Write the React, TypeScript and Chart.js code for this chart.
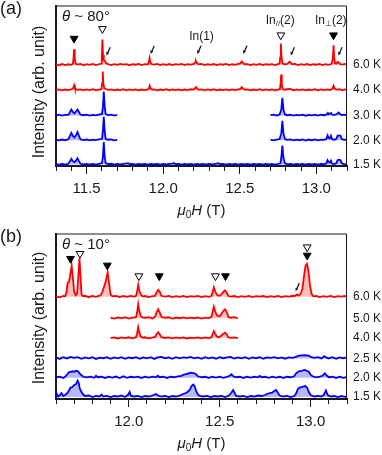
import React, { useEffect, useRef } from 'react';
import { Chart, registerables } from 'chart.js';

Chart.register(...registerables);

const FONT = "'Liberation Sans', Arial, sans-serif";
const RED = 'rgb(255,0,0)';
const BLUE = 'rgb(0,0,255)';
const RED_FILL = 'rgba(255,0,0,0.25)';
const BLUE_FILL = 'rgba(0,0,255,0.28)';
const INK = '#1a1a1a';

type Pt = [number, number | null];

// ---------- Panel (a): theta ~ 80 deg ----------
const a60: Pt[] = [[11.30,0.05],[11.32,-0.05],[11.34,0.08],[11.36,-0.02],[11.38,0.06],[11.40,0.0],[11.41,0.1],[11.414,0.6],[11.418,1.6],[11.422,0.7],[11.428,0.12],[11.44,0.03],[11.46,0.1],[11.48,-0.04],[11.50,0.07],[11.52,0.0],[11.54,0.09],[11.56,-0.03],[11.58,0.06],[11.594,0.12],[11.599,0.8],[11.603,2.6],[11.607,1.0],[11.612,0.45],[11.62,0.4],[11.628,0.15],[11.64,0.08],[11.66,-0.02],[11.68,0.07],[11.70,0.0],[11.72,0.1],[11.74,0.02],[11.76,0.08],[11.78,-0.04],[11.80,0.06],[11.82,0.01],[11.84,0.09],[11.86,-0.02],[11.88,0.07],[11.90,0.05],[11.906,0.3],[11.911,0.7],[11.916,0.3],[11.922,0.08],[11.94,0.02],[11.96,0.1],[11.98,-0.03],[12.00,0.06],[12.02,0.0],[12.04,0.08],[12.06,-0.02],[12.08,0.07],[12.10,0.02],[12.12,0.1],[12.14,-0.03],[12.16,0.06],[12.18,0.02],[12.20,0.1],[12.208,0.25],[12.214,0.4],[12.22,0.2],[12.23,0.05],[12.25,0.09],[12.27,-0.03],[12.29,0.06],[12.31,0.0],[12.33,0.08],[12.35,-0.02],[12.37,0.07],[12.39,0.01],[12.41,0.1],[12.43,-0.03],[12.45,0.06],[12.47,0.0],[12.49,0.1],[12.505,0.15],[12.512,0.35],[12.52,0.25],[12.53,0.06],[12.55,0.08],[12.57,-0.02],[12.59,0.07],[12.61,0.0],[12.63,0.09],[12.65,-0.03],[12.67,0.06],[12.69,0.01],[12.71,0.08],[12.73,-0.02],[12.75,0.07],[12.76,0.15],[12.764,0.8],[12.768,2.2],[12.772,0.9],[12.778,0.15],[12.79,0.05],[12.81,0.1],[12.824,0.3],[12.832,0.25],[12.84,0.06],[12.86,0.09],[12.88,-0.02],[12.90,0.07],[12.92,0.0],[12.94,0.08],[12.96,-0.03],[12.98,0.06],[13.00,0.01],[13.02,0.09],[13.04,-0.02],[13.06,0.07],[13.08,0.0],[13.10,0.1],[13.108,0.7],[13.112,2.0],[13.116,0.8],[13.122,0.15],[13.13,0.12],[13.138,0.3],[13.146,0.25],[13.155,0.07],[13.17,0.02],[13.185,0.09],[13.20,0.03]];

const a40: Pt[] = [[11.30,0.03],[11.32,0.08],[11.34,-0.03],[11.36,0.06],[11.38,0.0],[11.40,0.09],[11.412,0.2],[11.418,0.5],[11.424,0.15],[11.44,0.02],[11.46,0.08],[11.48,-0.03],[11.50,0.07],[11.52,0.01],[11.54,0.09],[11.56,-0.02],[11.58,0.06],[11.596,0.1],[11.601,0.7],[11.605,1.9],[11.609,0.7],[11.615,0.2],[11.625,0.12],[11.64,0.02],[11.66,0.08],[11.68,-0.03],[11.70,0.06],[11.72,0.0],[11.74,0.09],[11.76,-0.02],[11.78,0.07],[11.80,0.01],[11.82,0.08],[11.84,-0.03],[11.86,0.06],[11.88,0.0],[11.90,0.08],[11.907,0.2],[11.912,0.45],[11.917,0.2],[11.925,0.05],[11.94,0.07],[11.96,-0.02],[11.98,0.06],[12.00,0.0],[12.02,0.09],[12.04,-0.03],[12.06,0.07],[12.08,0.01],[12.10,0.08],[12.12,-0.02],[12.14,0.06],[12.16,0.0],[12.18,0.09],[12.20,0.05],[12.208,0.2],[12.215,0.3],[12.222,0.15],[12.23,0.05],[12.25,0.08],[12.27,-0.02],[12.29,0.07],[12.31,0.0],[12.33,0.09],[12.35,-0.03],[12.37,0.06],[12.39,0.01],[12.41,0.08],[12.43,-0.02],[12.45,0.07],[12.47,0.0],[12.49,0.08],[12.505,0.12],[12.512,0.3],[12.52,0.2],[12.53,0.05],[12.55,0.08],[12.57,-0.03],[12.59,0.06],[12.61,0.0],[12.63,0.09],[12.65,-0.02],[12.67,0.07],[12.69,0.01],[12.71,0.08],[12.73,-0.03],[12.75,0.06],[12.762,0.12],[12.766,0.6],[12.77,1.6],[12.774,0.6],[12.78,0.12],[12.79,0.04],[12.81,0.09],[12.83,0.12],[12.85,-0.02],[12.87,0.07],[12.89,0.0],[12.91,0.08],[12.93,-0.03],[12.95,0.06],[12.97,0.01],[12.99,0.09],[13.01,-0.02],[13.03,0.07],[13.05,0.0],[13.07,0.08],[13.09,0.02],[13.105,0.15],[13.112,0.45],[13.118,0.15],[13.13,0.05],[13.15,0.09],[13.17,-0.02],[13.185,0.07],[13.20,0.02]];

const a30: Pt[] = [[11.30,0.03],[11.32,0.07],[11.34,-0.02],[11.36,0.06],[11.38,0.05],[11.39,0.3],[11.40,0.6],[11.41,0.35],[11.42,0.2],[11.43,0.4],[11.44,0.6],[11.45,0.35],[11.46,0.08],[11.48,0.02],[11.50,0.07],[11.52,-0.02],[11.54,0.06],[11.56,0.0],[11.58,0.08],[11.60,0.15],[11.606,0.8],[11.612,2.45],[11.618,0.9],[11.624,0.15],[11.64,0.04],[11.66,0.08],[11.68,-0.02],[11.70,0.05],[12.2,null],[12.70,0.04],[12.72,0.08],[12.74,-0.02],[12.76,0.1],[12.771,0.6],[12.778,1.8],[12.785,0.6],[12.795,0.1],[12.81,0.02],[12.83,0.07],[12.85,-0.02],[12.87,0.06],[12.89,0.0],[12.91,0.08],[12.93,-0.03],[12.95,0.06],[12.97,0.01],[12.99,0.08],[13.01,-0.02],[13.03,0.07],[13.05,0.02],[13.068,0.1],[13.075,0.25],[13.082,0.12],[13.09,0.22],[13.096,0.25],[13.103,0.08],[13.12,0.05],[13.135,0.15],[13.145,0.3],[13.155,0.15],[13.165,0.03],[13.18,0.07],[13.20,0.02]];

const a20: Pt[] = [[11.30,0.05],[11.32,-0.02],[11.34,0.07],[11.36,0.0],[11.38,0.1],[11.39,0.4],[11.40,0.75],[11.41,0.45],[11.42,0.3],[11.43,0.5],[11.44,0.85],[11.45,0.45],[11.46,0.1],[11.48,0.02],[11.50,0.07],[11.52,-0.02],[11.54,0.06],[11.56,0.01],[11.58,0.08],[11.60,0.15],[11.606,0.9],[11.612,2.4],[11.618,0.9],[11.624,0.15],[11.64,0.05],[11.66,0.09],[11.68,-0.02],[11.70,0.04],[12.2,null],[12.70,0.05],[12.72,-0.02],[12.74,0.07],[12.76,0.12],[12.771,0.7],[12.778,2.0],[12.785,0.7],[12.795,0.12],[12.81,0.03],[12.83,0.08],[12.85,-0.02],[12.87,0.06],[12.89,0.0],[12.91,0.08],[12.93,-0.03],[12.95,0.07],[12.97,0.0],[12.99,0.09],[13.01,-0.02],[13.03,0.06],[13.05,0.03],[13.066,0.15],[13.073,0.5],[13.08,0.25],[13.088,0.2],[13.095,0.45],[13.102,0.12],[13.115,0.05],[13.13,0.12],[13.138,0.45],[13.148,0.5],[13.158,0.45],[13.166,0.12],[13.18,0.05],[13.20,0.03]];

const a15: Pt[] = [[11.30,0.04],[11.32,0.0],[11.34,0.06],[11.36,-0.01],[11.38,0.08],[11.39,0.3],[11.40,0.6],[11.41,0.35],[11.42,0.25],[11.43,0.4],[11.44,0.65],[11.45,0.35],[11.46,0.08],[11.48,0.02],[11.50,0.06],[11.52,-0.01],[11.54,0.07],[11.56,0.0],[11.58,0.08],[11.60,0.15],[11.606,0.8],[11.612,2.3],[11.618,0.8],[11.624,0.15],[11.64,0.05],[11.66,0.08],[11.68,0.0],[11.70,0.06],[11.72,0.02],[11.74,0.07],[11.76,0.12],[11.77,0.15],[11.78,0.05],[11.80,0.07],[11.82,0.0],[11.84,0.06],[11.86,0.02],[11.88,0.07],[11.90,0.0],[11.92,0.06],[11.94,0.02],[11.96,0.07],[11.98,0.0],[12.00,0.06],[12.02,0.02],[12.04,0.07],[12.06,0.1],[12.07,0.15],[12.08,0.05],[12.10,0.06],[12.12,0.0],[12.14,0.07],[12.16,0.02],[12.18,0.06],[12.20,0.0],[12.22,0.07],[12.24,0.02],[12.26,0.06],[12.28,0.0],[12.30,0.07],[12.32,0.02],[12.34,0.06],[12.36,0.14],[12.37,0.05],[12.39,0.07],[12.41,0.0],[12.43,0.06],[12.45,0.02],[12.47,0.07],[12.49,0.0],[12.51,0.06],[12.53,0.02],[12.55,0.07],[12.57,0.0],[12.59,0.06],[12.61,0.02],[12.63,0.07],[12.65,0.0],[12.67,0.06],[12.69,0.02],[12.71,0.07],[12.73,0.0],[12.75,0.06],[12.765,0.12],[12.771,0.7],[12.778,1.95],[12.785,0.7],[12.795,0.12],[12.81,0.02],[12.83,0.07],[12.85,0.0],[12.87,0.06],[12.89,0.02],[12.91,0.07],[12.93,0.0],[12.95,0.06],[12.97,0.02],[12.99,0.07],[13.01,0.0],[13.03,0.06],[13.05,0.03],[13.066,0.12],[13.073,0.45],[13.08,0.25],[13.088,0.2],[13.095,0.4],[13.102,0.1],[13.115,0.04],[13.13,0.12],[13.138,0.45],[13.148,0.5],[13.158,0.45],[13.166,0.12],[13.18,0.04],[13.20,0.02]];

const tempsA = ['6.0 K', '4.0 K', '3.0 K', '2.0 K', '1.5 K'];
const offsetsA = [10.4, 7.8, 5.2, 2.65, 0.15];
const tracesA = [a60, a40, a30, a20, a15];
const hotA = [true, true, false, false, false];
const majorTicksA = [11.5, 12.0, 12.5, 13.0];
const filledA: [number, number][] = [[11.418, 13.1], [13.112, 13.45]];
const openA: [number, number][] = [[11.603, 14.1], [12.768, 13.45]];
const arrowsA: [number, number][] = [[11.642, 11.8], [11.93, 11.95], [12.235, 11.95], [12.535, 11.95], [12.845, 11.8], [13.156, 11.8]];
const labelsA: { x: number; y: number; main: string; sub: string; rest: string }[] = [
  { x: 12.25, y: 13.27, main: 'In', sub: '', rest: '(1)' },
  { x: 12.764, y: 14.93, main: 'In', sub: '//', rest: '(2)' },
  { x: 13.094, y: 14.93, main: 'In', sub: '\u22A5', rest: '(2)' },
];

// ---------- Panel (b): theta ~ 10 deg ----------
const b60: Pt[] = [[11.60,0.05],[11.62,-0.05],[11.64,0.08],[11.65,0.05],[11.657,0.4],[11.664,1.4],[11.672,1.5],[11.68,2.4],[11.686,3.1],[11.692,2.0],[11.70,0.5],[11.708,0.15],[11.716,0.3],[11.722,1.8],[11.729,3.85],[11.735,2.0],[11.74,0.3],[11.748,0.05],[11.76,0.1],[11.78,-0.04],[11.80,0.08],[11.82,0.0],[11.835,0.1],[11.845,0.15],[11.855,0.5],[11.864,1.0],[11.873,1.5],[11.884,2.45],[11.892,1.3],[11.90,0.25],[11.91,0.05],[11.93,0.1],[11.95,-0.03],[11.97,0.08],[11.99,0.0],[12.01,0.09],[12.03,0.02],[12.04,0.1],[12.046,0.5],[12.052,1.2],[12.058,0.6],[12.066,0.25],[12.075,0.05],[12.09,0.08],[12.11,-0.02],[12.13,0.07],[12.145,0.1],[12.153,0.45],[12.162,0.7],[12.17,0.5],[12.18,0.1],[12.20,0.02],[12.22,0.09],[12.24,-0.03],[12.26,0.07],[12.28,0.0],[12.30,0.09],[12.32,-0.02],[12.34,0.06],[12.36,0.01],[12.38,0.09],[12.40,-0.03],[12.42,0.07],[12.44,0.0],[12.455,0.1],[12.462,0.5],[12.468,0.95],[12.475,0.55],[12.485,0.2],[12.495,0.1],[12.505,0.15],[12.52,0.5],[12.529,0.65],[12.537,0.45],[12.548,0.08],[12.56,0.02],[12.58,0.08],[12.60,-0.02],[12.62,0.07],[12.64,0.0],[12.66,0.09],[12.68,-0.03],[12.70,0.06],[12.72,0.01],[12.74,0.08],[12.76,-0.02],[12.78,0.07],[12.80,0.0],[12.82,0.09],[12.84,-0.03],[12.86,0.06],[12.88,0.01],[12.90,0.08],[12.915,0.1],[12.925,0.25],[12.935,0.12],[12.945,0.3],[12.955,0.8],[12.963,2.0],[12.972,3.1],[12.98,3.3],[12.988,2.6],[12.996,1.2],[13.005,0.3],[13.015,0.05],[13.03,0.09],[13.05,-0.02],[13.07,0.07],[13.09,0.0],[13.11,0.09],[13.13,-0.03],[13.15,0.06],[13.17,0.01],[13.185,0.08],[13.20,0.02]];

const b50: Pt[] = [[11.90,0.05],[11.92,-0.04],[11.94,0.08],[11.96,0.0],[11.98,0.1],[12.00,-0.03],[12.02,0.07],[12.04,0.1],[12.046,0.6],[12.052,1.4],[12.058,0.7],[12.066,0.25],[12.075,0.08],[12.09,0.05],[12.11,0.1],[12.13,-0.02],[12.145,0.15],[12.153,0.6],[12.162,0.9],[12.17,0.6],[12.18,0.12],[12.20,0.05],[12.22,0.1],[12.24,-0.03],[12.26,0.07],[12.28,0.0],[12.30,0.09],[12.32,-0.02],[12.34,0.06],[12.36,0.0],[12.38,0.09],[12.40,-0.03],[12.42,0.07],[12.44,0.02],[12.455,0.15],[12.462,0.7],[12.468,1.15],[12.475,0.7],[12.485,0.3],[12.495,0.2],[12.505,0.3],[12.52,0.75],[12.53,0.9],[12.538,0.65],[12.548,0.15],[12.56,0.05],[12.58,0.1],[12.60,0.0]];

const b40: Pt[] = [[11.90,0.03],[11.92,0.08],[11.94,-0.03],[11.96,0.07],[11.98,0.0],[12.00,0.09],[12.02,-0.02],[12.04,0.1],[12.046,0.5],[12.052,1.1],[12.058,0.55],[12.066,0.2],[12.075,0.05],[12.09,0.09],[12.11,-0.02],[12.13,0.06],[12.145,0.12],[12.153,0.4],[12.162,0.6],[12.17,0.4],[12.18,0.1],[12.20,0.02],[12.22,0.08],[12.24,-0.02],[12.26,0.07],[12.28,0.0],[12.30,0.08],[12.32,-0.03],[12.34,0.06],[12.36,0.01],[12.38,0.08],[12.40,-0.02],[12.42,0.07],[12.44,0.0],[12.455,0.1],[12.462,0.45],[12.468,0.7],[12.475,0.45],[12.485,0.15],[12.495,0.1],[12.505,0.2],[12.52,0.45],[12.53,0.55],[12.538,0.4],[12.548,0.1],[12.56,0.03],[12.58,0.08],[12.60,0.0]];

const b25: Pt[] = [[11.60,0.1],[11.62,-0.05],[11.64,0.12],[11.66,0.0],[11.68,0.15],[11.70,0.05],[11.72,0.12],[11.74,-0.04],[11.76,0.1],[11.78,0.0],[11.80,0.12],[11.82,-0.05],[11.84,0.08],[11.86,0.02],[11.88,0.13],[11.90,-0.03],[11.92,0.1],[11.94,0.0],[11.96,0.12],[11.98,-0.04],[12.00,0.09],[12.02,0.02],[12.04,0.13],[12.06,-0.03],[12.08,0.1],[12.10,0.0],[12.12,0.12],[12.14,-0.05],[12.16,0.1],[12.18,0.15],[12.20,0.02],[12.22,0.1],[12.24,-0.04],[12.26,0.12],[12.28,0.0],[12.30,0.1],[12.32,0.05],[12.34,0.15],[12.36,0.0],[12.38,0.1],[12.40,-0.04],[12.42,0.12],[12.44,0.0],[12.46,0.1],[12.48,-0.03],[12.50,0.12],[12.52,0.02],[12.54,0.1],[12.56,0.15],[12.58,-0.02],[12.60,0.1],[12.62,0.0],[12.64,0.12],[12.66,-0.04],[12.68,0.1],[12.70,0.02],[12.72,0.13],[12.74,-0.03],[12.76,0.1],[12.78,0.05],[12.80,0.12],[12.82,0.0],[12.84,0.1],[12.86,-0.03],[12.88,0.1],[12.90,0.05],[12.92,0.15],[12.93,0.25],[12.95,0.3],[12.97,0.32],[12.99,0.28],[13.00,0.15],[13.02,0.05],[13.04,0.12],[13.06,0.0],[13.075,0.22],[13.085,0.1],[13.10,0.0],[13.12,0.12],[13.14,-0.03],[13.16,0.1],[13.18,0.02],[13.20,0.1]];

const b20: Pt[] = [[11.60,0.05],[11.62,0.12],[11.64,-0.02],[11.65,0.1],[11.66,0.3],[11.67,0.55],[11.68,0.6],[11.69,0.65],[11.70,0.6],[11.71,0.7],[11.72,0.65],[11.73,0.45],[11.74,0.25],[11.75,0.1],[11.77,0.05],[11.79,0.12],[11.81,0.0],[11.82,0.2],[11.83,0.05],[11.85,0.1],[11.87,-0.02],[11.89,0.1],[11.91,0.02],[11.93,0.12],[11.95,-0.03],[11.97,0.15],[11.99,0.0],[12.01,0.1],[12.03,0.05],[12.05,0.12],[12.07,-0.02],[12.09,0.1],[12.11,0.02],[12.13,0.12],[12.15,0.05],[12.16,0.2],[12.17,0.05],[12.19,0.1],[12.21,-0.02],[12.23,0.1],[12.25,0.05],[12.27,0.15],[12.29,0.2],[12.30,0.3],[12.32,0.4],[12.34,0.5],[12.35,0.48],[12.36,0.45],[12.37,0.35],[12.38,0.15],[12.40,0.05],[12.42,0.1],[12.44,-0.02],[12.46,0.1],[12.48,0.02],[12.50,0.12],[12.52,0.0],[12.54,0.1],[12.555,0.2],[12.565,0.35],[12.575,0.15],[12.59,0.05],[12.61,0.1],[12.63,-0.02],[12.65,0.1],[12.67,0.02],[12.69,0.12],[12.71,0.05],[12.72,0.18],[12.73,0.05],[12.75,0.1],[12.77,0.0],[12.79,0.12],[12.81,0.02],[12.83,0.1],[12.85,-0.02],[12.87,0.1],[12.89,0.05],[12.91,0.15],[12.92,0.45],[12.935,0.65],[12.95,0.7],[12.965,0.78],[12.98,0.7],[12.99,0.6],[13.00,0.3],[13.01,0.15],[13.03,0.05],[13.05,0.12],[13.065,0.2],[13.078,0.45],[13.09,0.2],[13.10,0.05],[13.12,0.1],[13.14,-0.02],[13.16,0.1],[13.18,0.0],[13.20,0.08]];

const b15: Pt[] = [[11.60,0.08],[11.605,0.3],[11.612,0.05],[11.62,0.15],[11.63,0.4],[11.64,0.1],[11.65,0.2],[11.66,0.35],[11.67,0.6],[11.68,0.95],[11.69,1.0],[11.70,1.2],[11.71,1.3],[11.719,1.65],[11.725,1.4],[11.73,0.9],[11.74,0.5],[11.75,0.25],[11.76,0.1],[11.78,0.15],[11.80,0.0],[11.82,0.12],[11.84,0.05],[11.85,0.25],[11.86,0.05],[11.88,0.12],[11.90,0.0],[11.92,0.1],[11.94,0.05],[11.96,0.15],[11.98,0.0],[11.995,0.2],[12.005,0.5],[12.012,0.1],[12.03,0.05],[12.05,0.12],[12.07,0.0],[12.09,0.1],[12.11,0.05],[12.13,0.15],[12.15,0.3],[12.16,0.15],[12.18,0.05],[12.20,0.12],[12.22,0.0],[12.24,0.1],[12.26,0.05],[12.28,0.15],[12.30,0.3],[12.32,0.45],[12.335,0.7],[12.345,1.1],[12.354,1.25],[12.362,1.1],[12.37,0.6],[12.38,0.25],[12.39,0.1],[12.41,0.05],[12.43,0.12],[12.45,0.0],[12.47,0.1],[12.49,0.05],[12.51,0.12],[12.53,0.0],[12.55,0.15],[12.565,0.45],[12.574,0.7],[12.582,0.4],[12.59,0.1],[12.61,0.05],[12.63,0.12],[12.65,0.0],[12.67,0.1],[12.69,0.05],[12.71,0.15],[12.73,0.1],[12.75,0.2],[12.76,0.3],[12.775,0.4],[12.79,0.45],[12.80,0.6],[12.81,0.7],[12.82,0.4],[12.83,0.15],[12.85,0.05],[12.87,0.12],[12.89,0.0],[12.91,0.1],[12.92,0.35],[12.93,0.8],[12.94,0.95],[12.95,1.0],[12.96,1.05],[12.97,1.1],[12.98,0.95],[12.99,0.5],[13.00,0.2],[13.02,0.05],[13.04,0.12],[13.06,0.05],[13.072,0.2],[13.084,0.65],[13.094,0.2],[13.11,0.05],[13.13,0.1],[13.15,0.0],[13.17,0.1],[13.19,0.02],[13.20,0.08]];

const tempsB = ['6.0 K', '5.0 K', '4.0 K', '2.5 K', '2.0 K', '1.5 K'];
const offsetsB = [10.25, 8.1, 6.1, 4.07, 2.13, 0.2];
const tracesB = [b60, b50, b40, b25, b20, b15];
const hotB = [true, true, true, false, false, false];
const majorTicksB = [12.0, 12.5, 13.0];
const filledB: [number, number][] = [[11.68, 14.07], [11.882, 13.4], [12.168, 12.33], [12.532, 12.33], [12.981, 14.4]];
const openB: [number, number][] = [[11.732, 14.57], [12.056, 12.33], [12.477, 12.33], [12.981, 15.23]];
const arrowsB: [number, number][] = [[12.928, 11.23]];

interface PanelCfg {
  height: number;
  padTop: number;
  xMin: number;
  xMax: number;
  yMax: number;
  majorTicks: number[];
  traces: Pt[][];
  offsets: number[];
  hot: boolean[];
  temps: string[];
  filled: [number, number][];
  open: [number, number][];
  arrows: [number, number][];
  labels: { x: number; y: number; main: string; sub: string; rest: string }[];
  panel: string;
  panelY: number;
  theta: string;
  yTitleY: number;
}

const panelA: PanelCfg = {
  height: 228, padTop: 1, xMin: 11.3, xMax: 13.2, yMax: 16.5, majorTicks: majorTicksA,
  traces: tracesA, offsets: offsetsA, hot: hotA, temps: tempsA,
  filled: filledA, open: openA, arrows: arrowsA, labels: labelsA,
  panel: '(a)', panelY: 9, theta: ' ~ 80\u00B0', yTitleY: 92,
};
const panelB: PanelCfg = {
  height: 227, padTop: 5, xMin: 11.6, xMax: 13.2, yMax: 16.6, majorTicks: majorTicksB,
  traces: tracesB, offsets: offsetsB, hot: hotB, temps: tempsB,
  filled: filledB, open: openB, arrows: arrowsB, labels: [],
  panel: '(b)', panelY: 9, theta: ' ~ 10\u00B0', yTitleY: 90,
};

function decoPlugin(cfg: PanelCfg) {
  return {
    id: 'deco',
    afterDraw(chart: any) {
      const { ctx, chartArea: ca, scales } = chart;
      const xs = scales.x;
      const ys = scales.y;
      ctx.save();
      // frame (top + right)
      ctx.strokeStyle = INK;
      ctx.lineWidth = 1;
      ctx.beginPath();
      ctx.moveTo(ca.left, ca.top + 0.5);
      ctx.lineTo(ca.right - 0.5, ca.top + 0.5);
      ctx.lineTo(ca.right - 0.5, ca.bottom);
      ctx.stroke();

      ctx.fillStyle = INK;
      ctx.textBaseline = 'middle';
      ctx.textAlign = 'left';
      // panel label
      ctx.font = `18px ${FONT}`;
      ctx.fillText(cfg.panel, 0, cfg.panelY);
      // theta
      let tx = ca.left + 6;
      const ty = ca.top + 11;
      ctx.font = `italic 15px ${FONT}`;
      ctx.fillText('\u03B8', tx, ty);
      tx += ctx.measureText('\u03B8').width;
      ctx.font = `15px ${FONT}`;
      ctx.fillText(cfg.theta, tx, ty);

      // y-axis title
      ctx.save();
      ctx.translate(40, cfg.yTitleY);
      ctx.rotate(-Math.PI / 2);
      ctx.textAlign = 'center';
      ctx.font = `16px ${FONT}`;
      ctx.fillText('Intensity (arb. unit)', 0, 0);
      ctx.restore();

      // temperature labels
      ctx.font = `12px ${FONT}`;
      cfg.temps.forEach((t, i) => {
        ctx.fillText(t, ca.right + 6, ys.getPixelForValue(cfg.offsets[i]));
      });

      // x-axis title: mu0 H (T)
      const parts = [
        { t: '\u03BC', f: `italic 15px ${FONT}`, dy: 0 },
        { t: '0', f: `10px ${FONT}`, dy: 4 },
        { t: 'H', f: `italic 15px ${FONT}`, dy: 0 },
        { t: ' (T)', f: `15px ${FONT}`, dy: 0 },
      ];
      let total = 0;
      parts.forEach((p) => { ctx.font = p.f; total += ctx.measureText(p.t).width; });
      let px = (ca.left + ca.right) / 2 - total / 2;
      const py = ca.bottom + 45;
      parts.forEach((p) => {
        ctx.font = p.f;
        ctx.fillText(p.t, px, py + p.dy);
        px += ctx.measureText(p.t).width;
      });

      // arrows
      ctx.strokeStyle = INK;
      ctx.fillStyle = INK;
      ctx.lineWidth = 1.3;
      cfg.arrows.forEach(([x, y]) => {
        const cx = xs.getPixelForValue(x);
        const cy = ys.getPixelForValue(y);
        ctx.beginPath();
        ctx.moveTo(cx + 1.8, cy - 4);
        ctx.lineTo(cx - 0.8, cy + 2);
        ctx.stroke();
        ctx.beginPath();
        ctx.moveTo(cx - 1.8, cy + 4.2);
        ctx.lineTo(cx - 2.2, cy + 0.6);
        ctx.lineTo(cx + 0.8, cy + 1.8);
        ctx.closePath();
        ctx.fill();
      });

      // In labels
      cfg.labels.forEach((l) => {
        const segs = [
          { t: l.main, f: `12px ${FONT}`, dy: 0 },
          { t: l.sub, f: `8px ${FONT}`, dy: 3 },
          { t: l.rest, f: `12px ${FONT}`, dy: 0 },
        ];
        let w = 0;
        segs.forEach((s) => { ctx.font = s.f; w += ctx.measureText(s.t).width; });
        let lx = xs.getPixelForValue(l.x) - w / 2;
        const ly = ys.getPixelForValue(l.y);
        segs.forEach((s) => {
          ctx.font = s.f;
          ctx.fillText(s.t, lx, ly + s.dy);
          lx += ctx.measureText(s.t).width;
        });
      });
      ctx.restore();
    },
  };
}

function makeChart(canvas: HTMLCanvasElement, cfg: PanelCfg) {
  const datasets: any[] = [];
  cfg.traces.forEach((tr, i) => {
    const off = cfg.offsets[i];
    datasets.push({
      data: tr.map(([x, y]) => ({ x, y: y === null ? null : y + off })),
      borderColor: cfg.hot[i] ? RED : BLUE,
      backgroundColor: cfg.hot[i] ? RED_FILL : BLUE_FILL,
      borderWidth: 1.8,
      pointRadius: 0,
      tension: 0,
      spanGaps: false,
      fill: { value: off },
      order: 2,
    });
  });
  datasets.push({
    data: cfg.filled.map(([x, y]) => ({ x, y })),
    showLine: false,
    pointStyle: 'triangle',
    rotation: 180,
    pointRadius: 4.5,
    backgroundColor: '#000',
    borderColor: '#000',
    borderWidth: 1,
    order: 1,
  });
  datasets.push({
    data: cfg.open.map(([x, y]) => ({ x, y })),
    showLine: false,
    pointStyle: 'triangle',
    rotation: 180,
    pointRadius: 4.5,
    backgroundColor: '#fff',
    borderColor: '#000',
    borderWidth: 1,
    order: 1,
  });

  const minorTicks: number[] = [];
  const n = Math.round((cfg.xMax - cfg.xMin) / 0.1);
  for (let i = 0; i <= n; i++) minorTicks.push(+(cfg.xMin + i * 0.1).toFixed(1));

  const xAxisHeight = cfg.height - cfg.padTop - Math.round(cfg.yMax * 10);

  return new Chart(canvas, {
    type: 'line',
    data: { datasets },
    options: {
      animation: false,
      responsive: false,
      maintainAspectRatio: false,
      devicePixelRatio: 1,
      events: [],
      layout: { padding: { top: cfg.padTop, right: 35, bottom: 0, left: 0 } },
      plugins: { legend: { display: false }, tooltip: { enabled: false } },
      scales: {
        xMinor: {
          type: 'linear',
          position: 'bottom',
          weight: 0,
          min: cfg.xMin,
          max: cfg.xMax,
          afterBuildTicks: (s: any) => { s.ticks = minorTicks.map((v) => ({ value: v })); },
          afterFit: (s: any) => { s.height = 0; },
          grid: { display: true, drawOnChartArea: false, drawTicks: true, tickLength: 5, tickWidth: 1, tickColor: INK },
          border: { display: false },
          ticks: { display: false },
        },
        x: {
          type: 'linear',
          position: 'bottom',
          weight: 1,
          min: cfg.xMin,
          max: cfg.xMax,
          afterBuildTicks: (s: any) => { s.ticks = cfg.majorTicks.map((v) => ({ value: v })); },
          afterFit: (s: any) => { s.height = xAxisHeight; },
          grid: { display: true, drawOnChartArea: false, drawTicks: true, tickLength: 8, tickWidth: 1, tickColor: INK },
          border: { display: true, color: INK, width: 2 },
          ticks: {
            font: { size: 15, family: FONT },
            color: INK,
            padding: 6,
            maxRotation: 0,
            autoSkip: false,
            callback: (v: any) => Number(v).toFixed(1),
          },
        },
        y: {
          type: 'linear',
          position: 'left',
          min: 0,
          max: cfg.yMax,
          afterFit: (s: any) => { s.width = 56; },
          grid: { display: false },
          border: { display: true, color: INK, width: 2 },
          ticks: { display: false },
          title: { display: false },
        },
      },
    },
    plugins: [decoPlugin(cfg)],
  } as any);
}

function Panel({ cfg }: { cfg: PanelCfg }) {
  const ref = useRef<HTMLCanvasElement | null>(null);
  useEffect(() => {
    if (!ref.current) return;
    const chart = makeChart(ref.current, cfg);
    return () => chart.destroy();
  }, [cfg]);
  return <canvas ref={ref} width={382} height={cfg.height} style={{ display: 'block', width: 382, height: cfg.height }} />;
}

export default function App() {
  return (
    <div style={{ position: 'absolute', left: 0, top: 0, width: 382, height: 455, background: '#fff' }}>
      <Panel cfg={panelA} />
      <Panel cfg={panelB} />
    </div>
  );
}
